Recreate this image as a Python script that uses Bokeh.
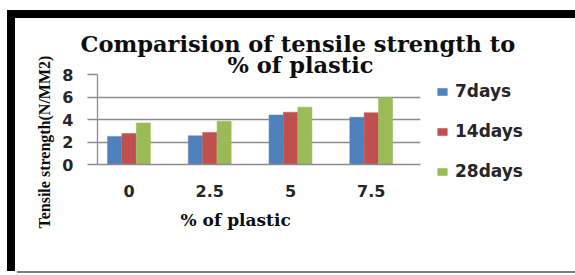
from bokeh.plotting import figure
from bokeh.models import (Range1d, FixedTicker, Title, Legend, LegendItem,
                          ColumnDataSource)
from bokeh.transform import dodge
from bokeh.embed import file_html
from bokeh.resources import INLINE

# ---- data ----
categories = ["0", "2.5", "5", "7.5"]
series_names = ["7days", "14days", "28days"]
days7 = [2.5, 2.55, 4.4, 4.2]
days14 = [2.75, 2.85, 4.65, 4.6]
days28 = [3.7, 3.85, 5.1, 5.95]
y_ticks = [0, 2, 4, 6, 8]
title_lines = ["Comparision of tensile strength to", "% of plastic"]
x_title = "% of plastic"
y_title = "Tensile strength(N/MM2)"

colors = ["#4F81BD", "#C0504D", "#9BBB59"]
offsets = [-0.178, 0.0, 0.178]

src = ColumnDataSource(dict(x=list(range(len(categories))),
                            s0=days7, s1=days14, s2=days28))

p = figure(frame_width=323, frame_height=90,
           x_range=Range1d(-0.39, 3.61), y_range=Range1d(0, 8),
           output_backend="svg", toolbar_location=None, title=None,
           min_border_left=82, min_border_right=150,
           min_border_top=56, min_border_bottom=107)
p.background_fill_color = "white"
p.border_fill_color = "white"
p.outline_line_color = None
p.styles = {"margin-left": "15px", "margin-top": "18px",
            "box-shadow": "-4px -4px 0px 4px #000000, 2px 2px 0px 0px #7f7f7f"}

renderers = []
for i, name in enumerate(series_names):
    r = p.vbar(x=dodge("x", offsets[i], range=p.x_range), top="s%d" % i, width=0.175,
               source=src, fill_color=colors[i], line_color=colors[i], line_width=0.5)
    renderers.append(r)

# grid & axes
grid_col = "#8c8c8c"
p.xgrid.grid_line_color = None
p.ygrid.ticker = FixedTicker(ticks=y_ticks)
p.ygrid.grid_line_color = grid_col
p.ygrid.grid_line_width = 1.3

p.yaxis.ticker = FixedTicker(ticks=y_ticks)
p.yaxis.axis_line_color = grid_col
p.yaxis.axis_line_width = 1.3
p.yaxis.major_tick_line_color = grid_col
p.yaxis.major_tick_line_width = 1.3
p.yaxis.major_tick_out = 10
p.yaxis.major_tick_in = 0
p.yaxis.minor_tick_line_color = None
p.yaxis.major_label_standoff = 14
p.yaxis.major_label_text_font = "DejaVu Sans"
p.yaxis.major_label_text_font_style = "bold"
p.yaxis.major_label_text_font_size = "16px"
p.yaxis.major_label_text_color = "#262626"

p.xaxis.ticker = FixedTicker(ticks=list(range(len(categories))))
p.xaxis.major_label_overrides = {i: c for i, c in enumerate(categories)}
p.xaxis.axis_line_color = grid_col
p.xaxis.axis_line_width = 1.3
p.xaxis.major_tick_line_color = None
p.xaxis.minor_tick_line_color = None
p.xaxis.major_tick_out = 0
p.xaxis.major_label_standoff = 20
p.xaxis.major_label_text_font = "DejaVu Sans"
p.xaxis.major_label_text_font_style = "bold"
p.xaxis.major_label_text_font_size = "16px"
p.xaxis.major_label_text_color = "#262626"

# legend in right panel
legend = Legend(items=[LegendItem(label=n, renderers=[r]) for n, r in zip(series_names, renderers)],
                location=(16, -17), orientation="vertical",
                glyph_width=12, glyph_height=9, label_height=20, spacing=20,
                padding=0, margin=0, label_standoff=7,
                border_line_color=None, background_fill_alpha=0,
                label_text_font="DejaVu Sans", label_text_font_style="bold",
                label_text_font_size="17px", label_text_color="#262626")
p.add_layout(legend, "right")

# titles (second line added first: it sits closest to the frame)
p.add_layout(Title(text=title_lines[1], align="left", offset=130, standoff=-6,
                   text_font="DejaVu Serif", text_font_style="bold",
                   text_font_size="22.5px", text_color="#0d0d0d"), "above")
p.add_layout(Title(text=title_lines[0], align="left", offset=-17, standoff=-8,
                   text_font="DejaVu Serif", text_font_style="bold",
                   text_font_size="22.5px", text_color="#0d0d0d"), "above")
p.add_layout(Title(text=x_title, align="left", offset=83, standoff=16,
                   text_font="DejaVu Serif", text_font_style="bold",
                   text_font_size="17px", text_color="#0d0d0d"), "below")
p.add_layout(Title(text=y_title, align="left", offset=-64, standoff=13,
                   text_font="Liberation Serif", text_font_style="bold",
                   text_font_size="16px", text_color="#0d0d0d"), "left")

open("out.html", "w").write(file_html(p, INLINE))
